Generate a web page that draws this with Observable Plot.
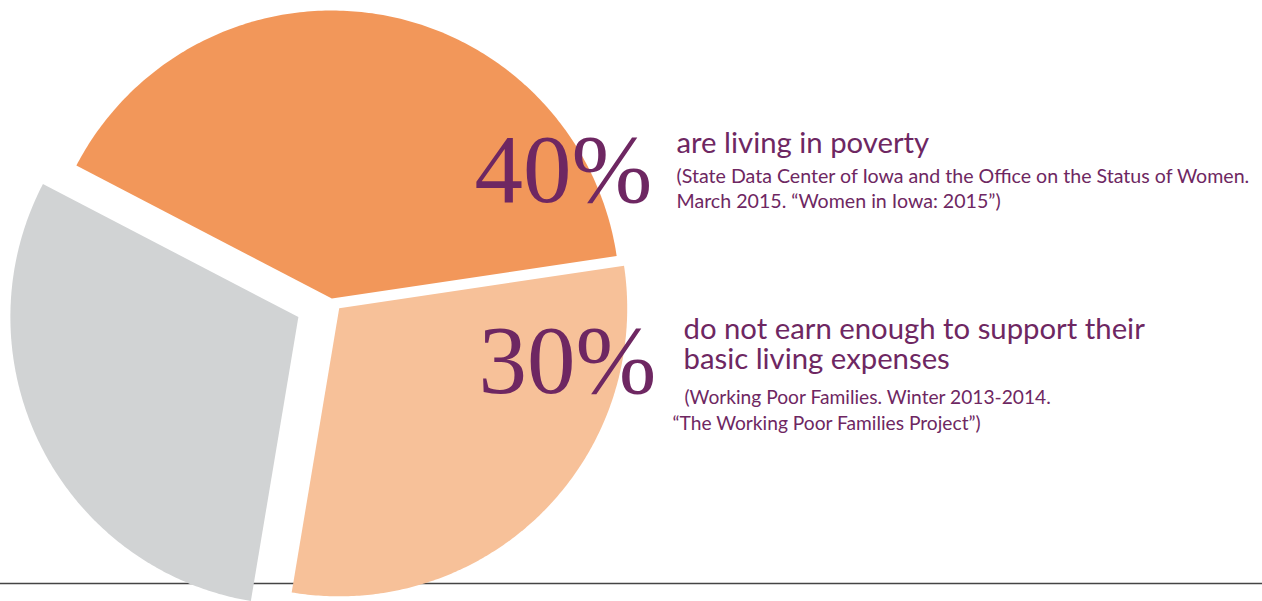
<!DOCTYPE html>
<html>
<head>
<meta charset="utf-8">
<script src="https://cdn.jsdelivr.net/npm/d3@7"></script>
<script src="https://cdn.jsdelivr.net/npm/@observablehq/plot@0.6"></script>
<style>
  html, body { margin: 0; padding: 0; background: #fff; }
  #chart svg { display: block; }
</style>
</head>
<body>
<div id="chart"></div>
<script>
// ---- data ----
const sliceNames = ["Living in poverty", "Not earning enough", "Other"];
const sliceValues = [40, 30, 30];
const sliceColors = ["#F2975A", "#F7C199", "#D1D3D4"];
const sliceExplode = [2, 11, 37];

const bigLabels = ["40%", "30%"];
const headLines = [["are living in poverty"], ["do not earn enough to support their", "basic living expenses"]];
const sourceLines = [
  ["(State Data Center of Iowa and the Office on the Status of Women.", "March 2015. \u201CWomen in Iowa: 2015\u201D)"],
  ["(Working Poor Families. Winter 2013-2014.", "\u201CThe Working Poor Families Project\u201D)"]
];

// ---- layout ----
const W = 1262, H = 601;
const cx = 331, cy = 300, R = 288;
const startDeg = -62.5;
const purple = "#6E2762";

const arcs = d3.pie().sort(null).startAngle(startDeg * Math.PI / 180).endAngle((startDeg + 360) * Math.PI / 180)(sliceValues);

const slices = arcs.map((a, i) => {
  const mid = (a.startAngle + a.endAngle) / 2;
  const ox = cx + sliceExplode[i] * Math.sin(mid);
  const oy = cy - sliceExplode[i] * Math.cos(mid);
  const pts = [{x: ox, y: oy}];
  const n = 200;
  for (let k = 0; k <= n; k++) {
    const t = a.startAngle + (a.endAngle - a.startAngle) * k / n;
    pts.push({x: ox + R * Math.sin(t), y: oy - R * Math.cos(t)});
  }
  return {name: sliceNames[i], color: sliceColors[i], pts};
});

const serif = "'Liberation Serif', 'DejaVu Serif', serif";
const sans = "Lato, 'Open Sans', sans-serif";

function label(str, x, y, size, family, lineHeight) {
  return Plot.text([str], {x: () => x, y: () => y, text: d => d, textAnchor: "start", lineAnchor: "bottom",
    lineHeight: lineHeight || 1, fill: purple, fontFamily: family, fontSize: size});
}

const marks = [
  Plot.ruleY([583], {x1: 0, x2: W, stroke: "#444", strokeWidth: 1.6}),
  ...slices.map(s => Plot.line(s.pts, {x: "x", y: "y", fill: s.color, stroke: "none", curve: "linear-closed"})),
  label(bigLabels[0], 474, 201, 97, serif),
  label(bigLabels[1], 478, 392, 97, serif),
  label(headLines[0].join("\n"), 676, 152, 29.3, sans),
  label(sourceLines[0].join("\n"), 676, 207, 19.6, sans, 25 / 19.6),
  label(headLines[1].join("\n"), 683, 368, 29.3, sans, 30 / 29.3),
  label(sourceLines[1][0], 684, 403, 19.2, sans),
  label(sourceLines[1][1], 672, 429, 19.2, sans)
];

const chart = Plot.plot({
  width: W, height: H,
  margin: 0,
  x: {domain: [0, W], range: [0, W], axis: null},
  y: {domain: [0, H], range: [0, H], axis: null},
  style: {background: "#fff", overflow: "visible"},
  marks
});
document.getElementById("chart").appendChild(chart);
</script>
</body>
</html>
